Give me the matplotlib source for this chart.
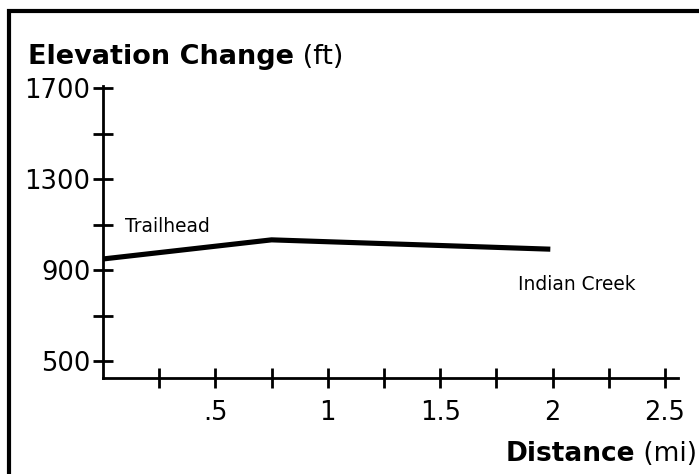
import matplotlib
matplotlib.use("Agg")
import matplotlib.pyplot as plt
from matplotlib.patches import Rectangle

plt.rcParams["font.family"] = ["DejaVu Sans"]

# trail profile
distance = [0.0, 0.75, 1.99]
elevation = [949, 1033, 992]

y_ticks = [500, 700, 900, 1100, 1300, 1500, 1700]
y_labels = ["500", "", "900", "", "1300", "", "1700"]
x_ticks = [0.25, 0.5, 0.75, 1.0, 1.25, 1.5, 1.75, 2.0, 2.25, 2.5]
x_labels = ["", ".5", "", "1", "", "1.5", "", "2", "", "2.5"]

W, H = 699, 474
fig = plt.figure(figsize=(W / 100, H / 100), dpi=100)

# axes box in pixels: x 103..678, y 86..378 (from top)
ax = fig.add_axes([103 / W, 1 - 378 / H, (678 - 103) / W, (378 - 86) / H])
ax.plot(distance, elevation, color="black", lw=3.7, solid_capstyle="butt",
        solid_joinstyle="round")

ax.set_xlim(0, 2.558)
ax.set_ylim(426, 1709)
ax.set_xticks(x_ticks)
ax.set_xticklabels(x_labels)
ax.set_yticks(y_ticks)
ax.set_yticklabels(y_labels)

for s in ["top", "right"]:
    ax.spines[s].set_visible(False)
for s in ["left", "bottom"]:
    ax.spines[s].set_linewidth(2)
ax.tick_params(direction="inout", length=14, width=2, labelsize=18.5)
ax.tick_params(axis="x", pad=9)
ax.tick_params(axis="y", pad=2)

ax.text(0.098, 1068, "Trailhead", fontsize=13.4, va="baseline", ha="left")
ax.text(1.846, 813, "Indian Creek", fontsize=13.4, va="baseline", ha="left")

# title: bold part + regular part
t1 = fig.text(28 / W, 1 - 64 / H, "Elevation Change", fontsize=19.5,
              fontweight="bold", va="baseline", ha="left")
fig.canvas.draw()
bb = t1.get_window_extent()
fig.text(bb.x1 / W, 1 - 64 / H, " (ft)", fontsize=19.5, va="baseline",
         ha="left")

# x axis title, right aligned
t2 = fig.text(697 / W, 1 - 461 / H, " (mi)", fontsize=19, va="baseline",
              ha="right")
fig.canvas.draw()
bb2 = t2.get_window_extent()
fig.text(bb2.x0 / W, 1 - 461 / H, "Distance", fontsize=19, fontweight="bold",
         va="baseline", ha="right")

# frame around the figure (cut off at right and bottom)
fig.patches.append(Rectangle((9 / W, -0.1), 1.2, 1.1 - 11 / H, fill=False,
                             lw=3, edgecolor="black",
                             transform=fig.transFigure, figure=fig))

fig.savefig("out.png", dpi=100)
